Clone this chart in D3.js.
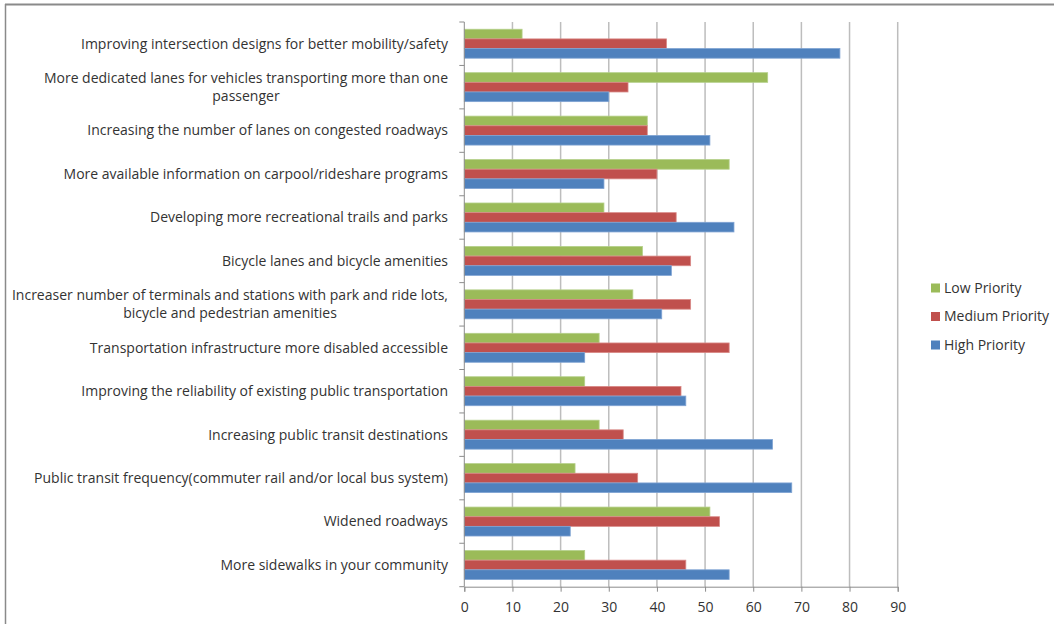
<!DOCTYPE html>
<html>
<head>
<meta charset="utf-8">
<script src="https://cdn.jsdelivr.net/npm/d3@7"></script>
<style>
html,body{margin:0;padding:0;background:#fff;}
svg{display:block;}
</style>
</head>
<body>
<svg id="chart" width="1054" height="624"></svg>
<script>
const categories = [
  ["Improving intersection designs for better mobility/safety"],
  ["More dedicated lanes for vehicles transporting more than one", "passenger"],
  ["Increasing the number of lanes on congested roadways"],
  ["More available information on carpool/rideshare programs"],
  ["Developing more recreational trails and parks"],
  ["Bicycle lanes and bicycle amenities"],
  ["Increaser number of terminals and stations with park and ride lots,", "bicycle and pedestrian amenities"],
  ["Transportation infrastructure more disabled accessible"],
  ["Improving the reliability of existing public transportation"],
  ["Increasing public transit destinations"],
  ["Public transit frequency(commuter rail and/or local bus system)"],
  ["Widened roadways"],
  ["More sidewalks in your community"]
];
const seriesNames = ["Low Priority", "Medium Priority", "High Priority"];
const lowPriority    = [12, 63, 38, 55, 29, 37, 35, 28, 25, 28, 23, 51, 25];
const mediumPriority = [42, 34, 38, 40, 44, 47, 47, 55, 45, 33, 36, 53, 46];
const highPriority   = [78, 30, 51, 29, 56, 43, 41, 25, 46, 64, 68, 22, 55];
const xTicks = [0, 10, 20, 30, 40, 50, 60, 70, 80, 90];

(function () {
const colors = ["#9BBB59", "#C0504D", "#4F81BD"];
const strokes = ["#b5d08a", "#d98a88", "#7fa3d3"];

const svg = d3.select("#chart");
const FONT = "'Open Sans', sans-serif";
const FS = 14;
const TEXT = "#333333";

// outer frame (top and left only)
svg.append("line").attr("x1", 5).attr("x2", 1054).attr("y1", 4.5).attr("y2", 4.5)
  .attr("stroke", "#8a8a8a").attr("stroke-width", 2);
svg.append("line").attr("x1", 5.5).attr("x2", 5.5).attr("y1", 4).attr("y2", 624)
  .attr("stroke", "#8a8a8a").attr("stroke-width", 1.5);

const pL = 464.3, pR = 897.7, pT = 22, pB = 586.7;
const x = d3.scaleLinear().domain([0, 90]).range([pL, pR]);
const y = d3.scaleBand().domain(d3.range(categories.length)).range([pT, pB]).padding(0);
const bw = y.bandwidth();
const inner = d3.scaleBand().domain(d3.range(3)).range([bw * 0.75 / 4.5, bw - bw * 0.75 / 4.5]).padding(0);

// gridlines
svg.append("g").selectAll("line").data(xTicks.slice(1)).join("line")
  .attr("x1", d => x(d)).attr("x2", d => x(d))
  .attr("y1", pT).attr("y2", pB)
  .attr("stroke", "#bdbdbd").attr("stroke-width", 1.5);

// bars
const values = [lowPriority, mediumPriority, highPriority];
const data = [];
categories.forEach((c, i) => {
  values.forEach((arr, s) => data.push({i, s, v: arr[i]}));
});
svg.append("g").selectAll("rect").data(data).join("rect")
  .attr("x", x(0))
  .attr("y", d => y(d.i) + inner(d.s))
  .attr("width", d => x(d.v) - x(0))
  .attr("height", inner.bandwidth())
  .attr("fill", d => colors[d.s])
  .attr("stroke", d => strokes[d.s]).attr("stroke-width", 0.8);

// y axis
const yAxisG = svg.append("g");
yAxisG.append("line").attr("x1", pL).attr("x2", pL).attr("y1", pT).attr("y2", pB)
  .attr("stroke", "#8c8c8c").attr("stroke-width", 1);
yAxisG.selectAll("line.tick").data(d3.range(categories.length + 1)).join("line").attr("class", "tick")
  .attr("x1", pL - 5).attr("x2", pL)
  .attr("y1", d => pT + d * bw).attr("y2", d => pT + d * bw)
  .attr("stroke", "#8c8c8c");

// x axis
const xAxis = d3.axisBottom(x).tickValues(xTicks).tickSize(5).tickPadding(10);
const xg = svg.append("g").attr("transform", `translate(0,${pB})`).call(xAxis);
xg.select(".domain").attr("stroke", "#8c8c8c");
xg.selectAll(".tick line").attr("stroke", "#8c8c8c");
xg.selectAll(".tick text").attr("font-family", FONT).attr("font-size", FS).attr("fill", TEXT);

// category labels
const labelRight = 448;
const lineH = 18;
categories.forEach((lines, i) => {
  const cy = y(i) + bw / 2;
  const g = svg.append("g");
  const texts = lines.map((t, k) => g.append("text")
    .attr("font-family", FONT).attr("font-size", FS).attr("fill", TEXT)
    .attr("y", cy + (k - (lines.length - 1) / 2) * lineH)
    .attr("dy", "0.35em")
    .text(t));
  const widths = texts.map(t => t.node().getComputedTextLength());
  const maxW = d3.max(widths);
  const center = labelRight - maxW / 2;
  texts.forEach(t => t.attr("x", center).attr("text-anchor", "middle"));
});

// legend
const legend = svg.append("g");
seriesNames.forEach((n, k) => {
  const ly = 288 + k * 28.5;
  legend.append("rect").attr("x", 931).attr("y", ly - 4.5).attr("width", 9).attr("height", 9)
    .attr("fill", colors[k]);
  legend.append("text").attr("x", 944).attr("y", ly).attr("dy", "0.35em")
    .attr("font-family", FONT).attr("font-size", FS).attr("fill", TEXT).text(n);
});
})();
</script>
</body>
</html>
